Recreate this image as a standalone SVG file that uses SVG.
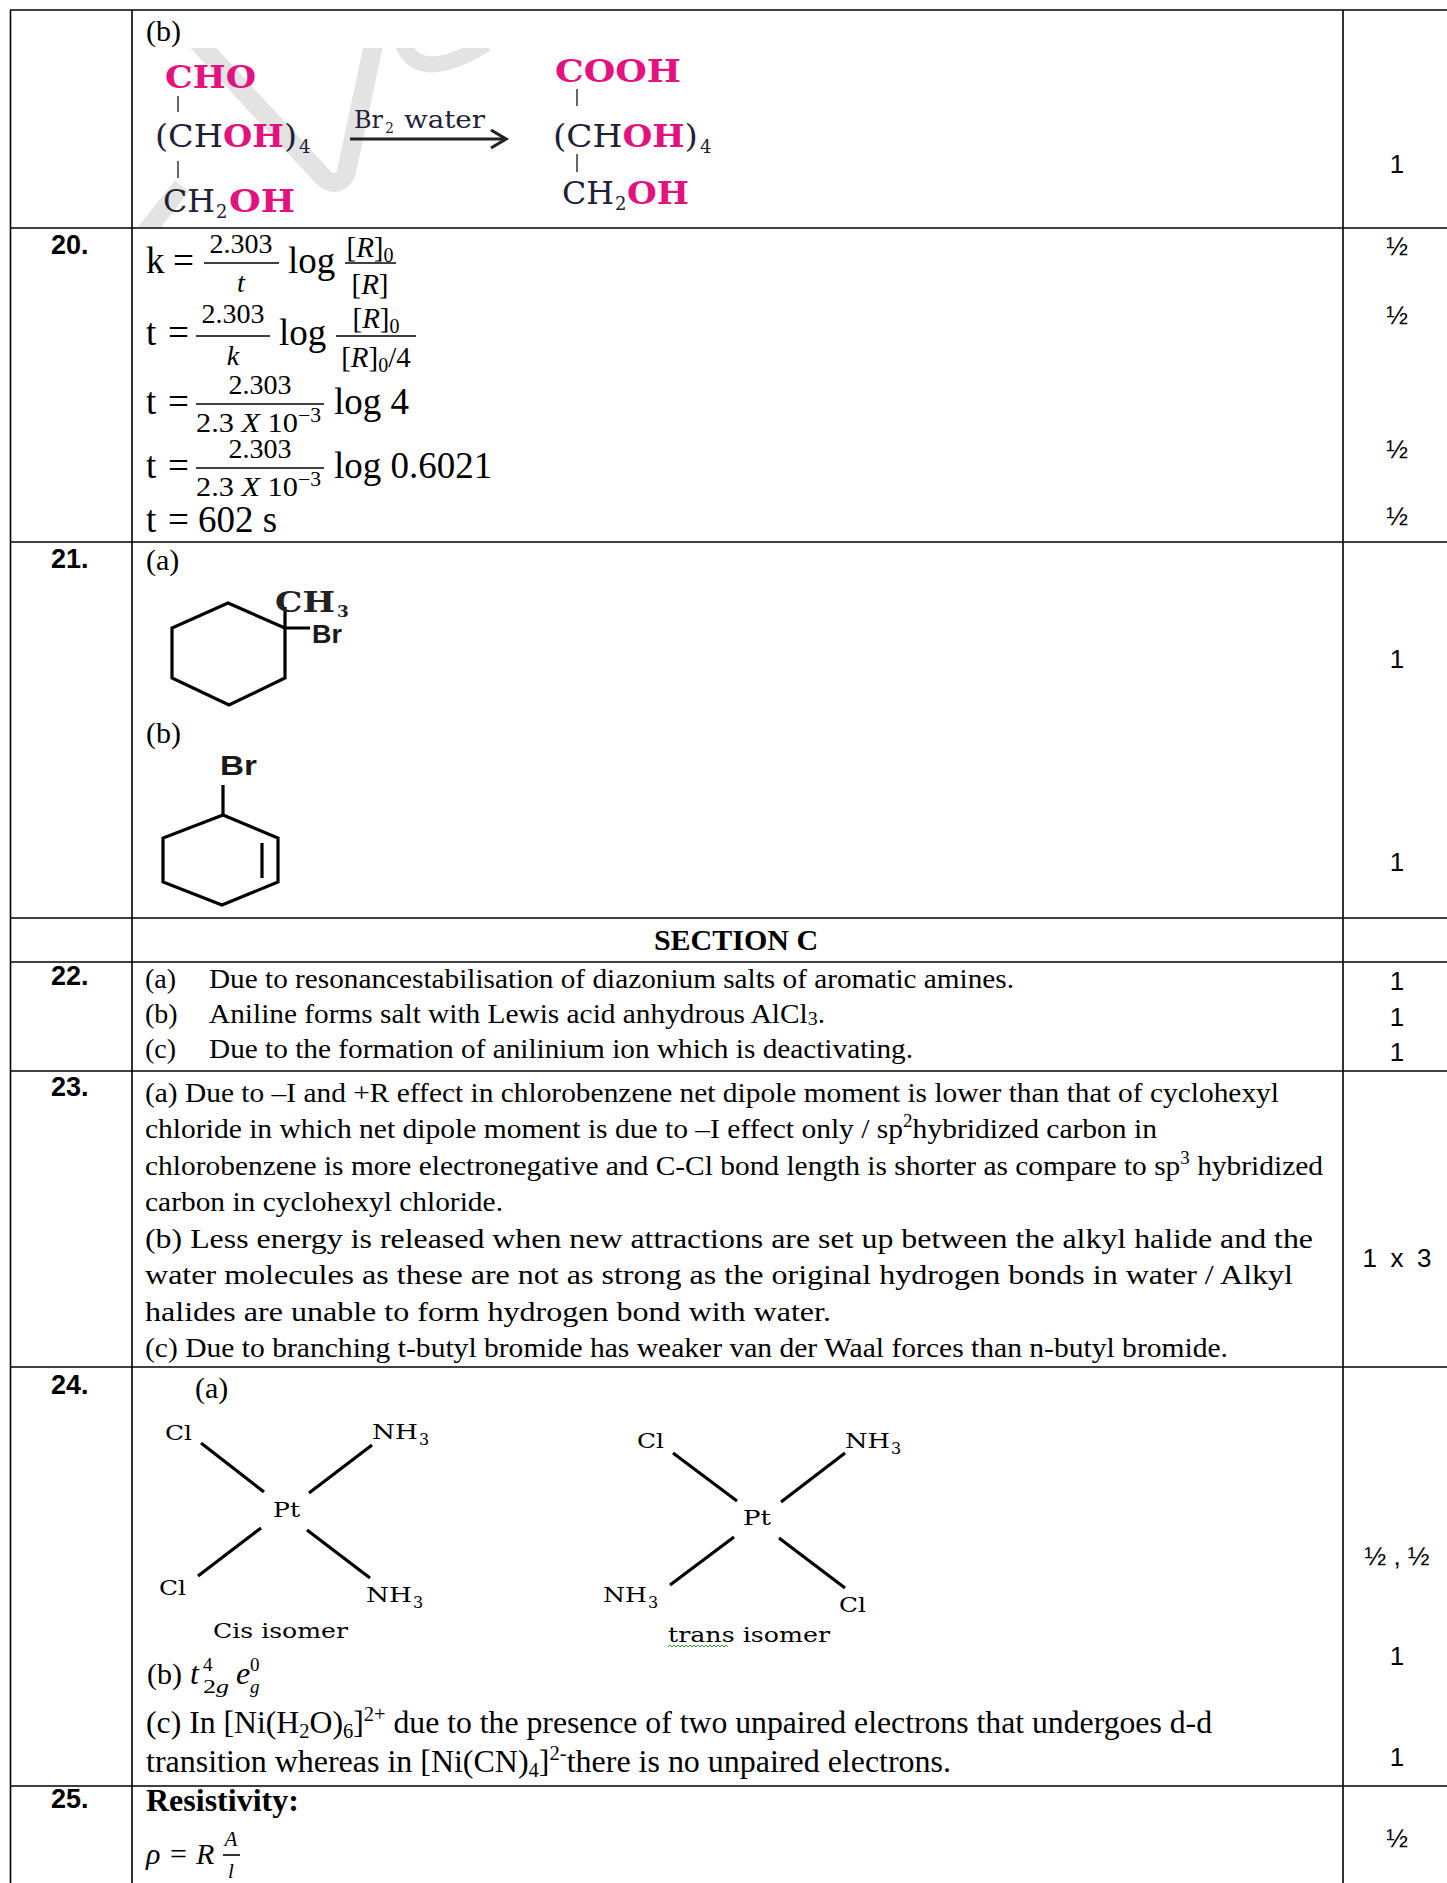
<svg xmlns="http://www.w3.org/2000/svg" width="1447" height="1883" viewBox="0 0 1447 1883">
<defs>
<style>
.tb{stroke:#000;stroke-width:1.6;fill:none}
.num{font-family:"Liberation Sans",Arial,sans-serif;font-weight:bold;font-size:27px;fill:#000}
.mk{font-family:"Liberation Sans",Arial,sans-serif;font-size:26px;text-anchor:middle;fill:#000}
.tx{font-family:"Liberation Serif","Times New Roman",serif;font-size:28px;fill:#000}
.eq{font-family:"Liberation Serif","Times New Roman",serif;font-size:37px;fill:#000}
.fr{font-family:"Liberation Serif","Times New Roman",serif;font-size:28px;fill:#000;text-anchor:middle}
.it{font-style:italic}
.bar{stroke:#000;stroke-width:1.6}
.bond{stroke:#000;stroke-width:3.2;fill:none;stroke-linejoin:miter}
.cs{font-family:"DejaVu Serif",serif;font-size:21px;fill:#000}
.sg{font-family:"DejaVu Serif",serif;font-size:31px;fill:#1d2238}
.mg{fill:#e4127e;font-weight:bold}
.wm{stroke:#e3e3e3;fill:none;stroke-linecap:butt;stroke-linejoin:round}
.bl{stroke:#333;stroke-width:1.5}
.sb{font-family:"Liberation Sans",Arial,sans-serif;font-weight:bold;fill:#1a1a1a}
</style>
<clipPath id="wmclip"><rect x="134" y="48" width="420" height="179"/></clipPath>
</defs>
<rect width="1447" height="1883" fill="#fff"/>

<g id="watermark" clip-path="url(#wmclip)">
<path class="wm" stroke-width="18" d="M144,234 L182,186"/>
<path class="wm" stroke-width="19" d="M198,42 L322,176 Q336,190 346,174 L374,42"/>
<path class="wm" stroke-width="16" d="M402,42 Q418,86 486,44"/>
</g>

<g id="table-grid" class="tb">
<line x1="10.5" y1="10" x2="10.5" y2="1883"/>
<line x1="132" y1="10" x2="132" y2="1883"/>
<line x1="1343" y1="10" x2="1343" y2="1883"/>
<line x1="10" y1="10" x2="1447" y2="10"/>
<line x1="10" y1="228" x2="1447" y2="228"/>
<line x1="10" y1="542" x2="1447" y2="542"/>
<line x1="10" y1="918" x2="1447" y2="918"/>
<line x1="10" y1="962" x2="1447" y2="962"/>
<line x1="10" y1="1071" x2="1447" y2="1071"/>
<line x1="10" y1="1367" x2="1447" y2="1367"/>
<line x1="10" y1="1786" x2="1447" y2="1786"/>
</g>

<g id="row-19b">
<text class="tx" x="146" y="41" style="font-size:30px">(b)</text>
<text class="sg mg" x="165" y="88" textLength="91" lengthAdjust="spacingAndGlyphs">CHO</text>
<line class="bl" x1="178" y1="96" x2="178" y2="112"/>
<text class="sg" x="155" y="147" textLength="142" lengthAdjust="spacingAndGlyphs">(CH<tspan class="mg">OH</tspan>)</text>
<text class="sg" x="299" y="153" style="font-size:18px">4</text>
<line class="bl" x1="178" y1="161" x2="178" y2="178"/>
<text class="sg" x="163" y="212" textLength="52" lengthAdjust="spacingAndGlyphs">CH</text>
<text class="sg" x="216" y="218" style="font-size:18px">2</text>
<text class="sg mg" x="229" y="212" textLength="66" lengthAdjust="spacingAndGlyphs">OH</text>
<text class="sg" x="354" y="128" style="font-size:24px" textLength="29" lengthAdjust="spacingAndGlyphs">Br</text>
<text class="sg" x="385" y="133" style="font-size:14px">2</text>
<text class="sg" x="404" y="128" style="font-size:24px" textLength="81" lengthAdjust="spacingAndGlyphs">water</text>
<line x1="350" y1="139" x2="504" y2="139" stroke="#222" stroke-width="3.2"/>
<polyline points="491,130 506,139 491,148" fill="none" stroke="#222" stroke-width="3.2"/>
<text class="sg mg" x="555" y="82" textLength="126" lengthAdjust="spacingAndGlyphs">COOH</text>
<line class="bl" x1="577" y1="89" x2="577" y2="106"/>
<text class="sg" x="553" y="147" textLength="145" lengthAdjust="spacingAndGlyphs">(CH<tspan class="mg">OH</tspan>)</text>
<text class="sg" x="700" y="153" style="font-size:18px">4</text>
<line class="bl" x1="577" y1="154" x2="577" y2="172"/>
<text class="sg" x="562" y="204" textLength="52" lengthAdjust="spacingAndGlyphs">CH</text>
<text class="sg" x="615" y="210" style="font-size:18px">2</text>
<text class="sg mg" x="627" y="204" textLength="62" lengthAdjust="spacingAndGlyphs">OH</text>
<text class="mk" x="1397" y="173">1</text>
</g>

<g id="row-20">
<text class="num" x="51" y="254">20.</text>
<text class="eq" x="146" y="273">k</text>
<text class="eq" x="173" y="273" textLength="21" lengthAdjust="spacingAndGlyphs">=</text>
<text class="fr" x="241" y="253">2.303</text>
<line class="bar" x1="204" y1="263" x2="279" y2="263"/>
<text class="fr it" x="241" y="292">t</text>
<text class="eq" x="288" y="273">log</text>
<text class="fr" x="370" y="257" style="font-size:29px">[<tspan class="it">R</tspan>]<tspan font-size="20" dy="5">0</tspan></text>
<line class="bar" x1="345" y1="263" x2="396" y2="263"/>
<text class="fr" x="370" y="294" style="font-size:29px">[<tspan class="it">R</tspan>]</text>

<text class="eq" x="146" y="345">t</text>
<text class="eq" x="168" y="345" textLength="21" lengthAdjust="spacingAndGlyphs">=</text>
<text class="fr" x="233" y="323">2.303</text>
<line class="bar" x1="196" y1="336" x2="270" y2="336"/>
<text class="fr it" x="233" y="365">k</text>
<text class="eq" x="279" y="345">log</text>
<text class="fr" x="376" y="328" style="font-size:29px">[<tspan class="it">R</tspan>]<tspan font-size="20" dy="5">0</tspan></text>
<line class="bar" x1="336" y1="336" x2="416" y2="336"/>
<text class="fr" x="376" y="367" style="font-size:29px">[<tspan class="it">R</tspan>]<tspan font-size="20" dy="5">0</tspan><tspan dy="-5">/4</tspan></text>

<text class="eq" x="146" y="414">t</text>
<text class="eq" x="168" y="414" textLength="21" lengthAdjust="spacingAndGlyphs">=</text>
<text class="fr" x="260" y="394">2.303</text>
<line class="bar" x1="196" y1="404" x2="324" y2="404"/>
<text class="tx" x="196" y="432" style="font-size:28px" textLength="125" lengthAdjust="spacingAndGlyphs">2.3 <tspan class="it">X</tspan> 10<tspan font-size="20" dy="-10">−3</tspan></text>
<text class="eq" x="334" y="414">log 4</text>

<text class="eq" x="146" y="478">t</text>
<text class="eq" x="168" y="478" textLength="21" lengthAdjust="spacingAndGlyphs">=</text>
<text class="fr" x="260" y="458">2.303</text>
<line class="bar" x1="196" y1="468" x2="324" y2="468"/>
<text class="tx" x="196" y="496" style="font-size:28px" textLength="125" lengthAdjust="spacingAndGlyphs">2.3 <tspan class="it">X</tspan> 10<tspan font-size="20" dy="-10">−3</tspan></text>
<text class="eq" x="334" y="478">log 0.6021</text>

<text class="eq" x="146" y="532">t</text>
<text class="eq" x="168" y="532" textLength="21" lengthAdjust="spacingAndGlyphs">=</text>
<text class="eq" x="198" y="532">602 s</text>

<text class="mk" x="1397" y="255">½</text>
<text class="mk" x="1397" y="324">½</text>
<text class="mk" x="1397" y="458">½</text>
<text class="mk" x="1397" y="525">½</text>
</g>

<g id="row-21">
<text class="num" x="51" y="568">21.</text>
<text class="tx" x="146" y="570" style="font-size:30px">(a)</text>
<polygon class="bond" points="228,603 285,628 285,678 229,705 172,678 172,628"/>
<polyline class="bond" points="285,607 285,628 310,628"/>
<text font-family="DejaVu Serif,serif" font-weight="bold" font-size="27" fill="#222" x="275" y="612" textLength="60" lengthAdjust="spacingAndGlyphs">CH</text>
<text font-family="DejaVu Serif,serif" font-weight="bold" font-size="17" fill="#222" x="337" y="617">3</text>
<text class="sb" x="312" y="643" style="font-size:25px" textLength="30" lengthAdjust="spacingAndGlyphs">Br</text>
<text class="tx" x="146" y="743" style="font-size:30px">(b)</text>
<text class="sb" x="220" y="775" style="font-size:27px" textLength="37" lengthAdjust="spacingAndGlyphs">Br</text>
<line class="bond" x1="223" y1="785" x2="223" y2="815"/>
<polygon class="bond" points="223,815 278,838 278,882 222,905 163,882 163,838"/>
<line class="bond" x1="262" y1="843" x2="262" y2="878"/>
<text class="mk" x="1397" y="668">1</text>
<text class="mk" x="1397" y="871">1</text>
</g>

<g id="section-c">
<text class="tx" x="736" y="950" style="font-size:30px" font-weight="bold" text-anchor="middle">SECTION C</text>
</g>

<g id="row-22">
<text class="num" x="51" y="985">22.</text>
<text class="tx" x="145" y="988">(a)</text>
<text class="tx" x="209" y="988" textLength="805" lengthAdjust="spacingAndGlyphs">Due to resonancestabilisation of diazonium salts of aromatic amines.</text>
<text class="tx" x="145" y="1023">(b)</text>
<text class="tx" x="209" y="1023" textLength="616" lengthAdjust="spacingAndGlyphs">Aniline forms salt with Lewis acid anhydrous AlCl<tspan font-size="19" dy="2">3</tspan><tspan dy="-2">.</tspan></text>
<text class="tx" x="145" y="1058">(c)</text>
<text class="tx" x="209" y="1058" textLength="704" lengthAdjust="spacingAndGlyphs">Due to the formation of anilinium ion which is deactivating.</text>
<text class="mk" x="1397" y="990">1</text>
<text class="mk" x="1397" y="1026">1</text>
<text class="mk" x="1397" y="1061">1</text>
</g>

<g id="row-23">
<text class="num" x="51" y="1096">23.</text>
<text class="tx" x="145" y="1102" textLength="1134" lengthAdjust="spacingAndGlyphs">(a) Due to –I and +R effect in chlorobenzene net dipole moment is lower than that of cyclohexyl</text>
<text class="tx" x="145" y="1138" textLength="1012" lengthAdjust="spacingAndGlyphs">chloride in which net dipole moment is due to –I effect only / sp<tspan font-size="18" dy="-11">2</tspan><tspan dy="11">hybridized carbon in</tspan></text>
<text class="tx" x="145" y="1175" textLength="1178" lengthAdjust="spacingAndGlyphs">chlorobenzene is more electronegative and C-Cl bond length is shorter as compare to sp<tspan font-size="18" dy="-11">3</tspan><tspan dy="11"> hybridized</tspan></text>
<text class="tx" x="145" y="1211" textLength="358" lengthAdjust="spacingAndGlyphs">carbon in cyclohexyl chloride.</text>
<text class="tx" x="145" y="1248" textLength="1168" lengthAdjust="spacingAndGlyphs">(b) Less energy is released when new attractions are set up between the alkyl halide and the</text>
<text class="tx" x="145" y="1284" textLength="1148" lengthAdjust="spacingAndGlyphs">water molecules as these are not as strong as the original hydrogen bonds in water / Alkyl</text>
<text class="tx" x="145" y="1321" textLength="686" lengthAdjust="spacingAndGlyphs">halides are unable to form hydrogen bond with water.</text>
<text class="tx" x="145" y="1357" textLength="1083" lengthAdjust="spacingAndGlyphs">(c) Due to branching t-butyl bromide has weaker van der Waal forces than n-butyl bromide.</text>
<text class="mk" x="1397" y="1267" textLength="69" lengthAdjust="spacing">1 x 3</text>
</g>

<g id="row-24">
<text class="num" x="51" y="1394">24.</text>
<text class="tx" x="195" y="1398" style="font-size:30px">(a)</text>
<g id="cis-isomer">
<line class="bond" x1="201" y1="1443" x2="264" y2="1492" stroke-width="2.6"/>
<line class="bond" x1="372" y1="1445" x2="309" y2="1493" stroke-width="2.6"/>
<line class="bond" x1="261" y1="1528" x2="198" y2="1576" stroke-width="2.6"/>
<line class="bond" x1="307" y1="1530" x2="370" y2="1578" stroke-width="2.6"/>
<text class="cs" x="165" y="1440" textLength="27" lengthAdjust="spacingAndGlyphs">Cl</text>
<text class="cs" x="372" y="1439" textLength="46" lengthAdjust="spacingAndGlyphs">NH</text>
<text class="cs" x="419" y="1445" style="font-size:16px">3</text>
<text class="cs" x="273" y="1517" textLength="27" lengthAdjust="spacingAndGlyphs">Pt</text>
<text class="cs" x="159" y="1595" textLength="27" lengthAdjust="spacingAndGlyphs">Cl</text>
<text class="cs" x="366" y="1602" textLength="46" lengthAdjust="spacingAndGlyphs">NH</text>
<text class="cs" x="413" y="1608" style="font-size:16px">3</text>
<text class="cs" x="213" y="1638" textLength="135" lengthAdjust="spacingAndGlyphs">Cis isomer</text>
</g>
<g id="trans-isomer">
<line class="bond" x1="673" y1="1453" x2="737" y2="1501" stroke-width="2.6"/>
<line class="bond" x1="845" y1="1453" x2="781" y2="1502" stroke-width="2.6"/>
<line class="bond" x1="734" y1="1537" x2="670" y2="1585" stroke-width="2.6"/>
<line class="bond" x1="779" y1="1538" x2="845" y2="1588" stroke-width="2.6"/>
<text class="cs" x="637" y="1448" textLength="27" lengthAdjust="spacingAndGlyphs">Cl</text>
<text class="cs" x="845" y="1448" textLength="45" lengthAdjust="spacingAndGlyphs">NH</text>
<text class="cs" x="891" y="1454" style="font-size:16px">3</text>
<text class="cs" x="743" y="1525" textLength="28" lengthAdjust="spacingAndGlyphs">Pt</text>
<text class="cs" x="603" y="1602" textLength="44" lengthAdjust="spacingAndGlyphs">NH</text>
<text class="cs" x="648" y="1608" style="font-size:16px">3</text>
<text class="cs" x="839" y="1612" textLength="27" lengthAdjust="spacingAndGlyphs">Cl</text>
<text class="cs" x="668" y="1642" textLength="162" lengthAdjust="spacingAndGlyphs">trans isomer</text>
<path d="M668,1647 l2,-2 2,2 2,-2 2,2 2,-2 2,2 2,-2 2,2 2,-2 2,2 2,-2 2,2 2,-2 2,2 2,-2 2,2 2,-2 2,2 2,-2 2,2 2,-2 2,2 2,-2 2,2 2,-2 2,2 2,-2 2,2 2,-2 2,2" fill="none" stroke="#3d8b3d" stroke-width="1"/>
</g>
<g id="row-24b">
<text class="tx" x="147" y="1684" style="font-size:30px">(b)</text>
<text class="tx it" x="190" y="1684" style="font-size:32px">t</text>
<text class="tx" x="203" y="1671" style="font-size:19px">4</text>
<text class="tx" x="203" y="1693" style="font-size:19px" textLength="26" lengthAdjust="spacingAndGlyphs">2<tspan class="it">g</tspan></text>
<text class="tx it" x="236" y="1684" style="font-size:32px">e</text>
<text class="tx" x="250" y="1671" style="font-size:19px">0</text>
<text class="tx it" x="250" y="1693" style="font-size:19px">g</text>
</g>
<text class="tx" x="146" y="1733" style="font-size:31px" textLength="1066" lengthAdjust="spacingAndGlyphs">(c) In [Ni(H<tspan font-size="20" dy="5">2</tspan><tspan dy="-5">O)</tspan><tspan font-size="20" dy="5">6</tspan><tspan dy="-5">]</tspan><tspan font-size="20" dy="-12">2+</tspan><tspan dy="12"> due to the presence of two unpaired electrons that undergoes d-d</tspan></text>
<text class="tx" x="146" y="1772" style="font-size:31px" textLength="805" lengthAdjust="spacingAndGlyphs">transition whereas in [Ni(CN)<tspan font-size="20" dy="5">4</tspan><tspan dy="-5">]</tspan><tspan font-size="20" dy="-12">2-</tspan><tspan dy="12">there is no unpaired electrons.</tspan></text>
<text class="mk" x="1397" y="1565">½ , ½</text>
<text class="mk" x="1397" y="1665">1</text>
<text class="mk" x="1397" y="1766">1</text>
</g>

<g id="row-25">
<text class="num" x="51" y="1808">25.</text>
<text class="tx" x="146" y="1811" style="font-size:32px" font-weight="bold">Resistivity:</text>
<text class="tx it" x="146" y="1864" style="font-size:30px">ρ</text>
<text class="tx" x="170" y="1864" style="font-size:30px">=</text>
<text class="tx it" x="196" y="1864" style="font-size:30px">R</text>
<text class="tx it" x="231" y="1846" style="font-size:21px" text-anchor="middle">A</text>
<line class="bar" x1="223" y1="1855" x2="240" y2="1855"/>
<text class="tx it" x="231" y="1878" style="font-size:21px" text-anchor="middle">l</text>
<text class="mk" x="1397" y="1847">½</text>
</g>
</svg>
